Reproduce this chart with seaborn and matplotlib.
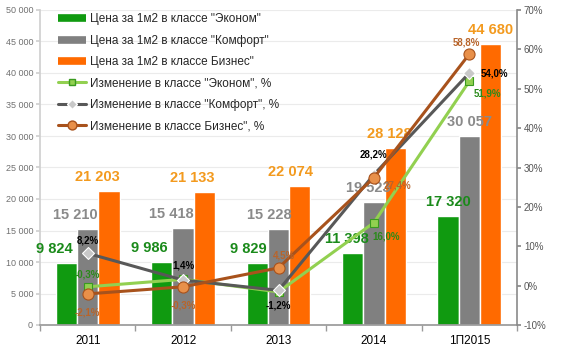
import matplotlib
matplotlib.use("Agg")
import matplotlib.pyplot as plt
import numpy as np
import pandas as pd
import seaborn as sns
from matplotlib.lines import Line2D
from matplotlib.ticker import FuncFormatter, MultipleLocator

sns.set_theme(style="white")
plt.rcParams["font.family"] = ["Liberation Sans", "DejaVu Sans"]

# ---------------- data ----------------
years = ["2011", "2012", "2013", "2014", "1П2015"]
price_econom = [9824, 9986, 9829, 11398, 17320]
price_comfort = [15210, 15418, 15228, 19523, 30057]
price_business = [21203, 21133, 22074, 28128, 44680]
chg_econom = [-0.3, 1.6, -1.6, 16.0, 51.9]
chg_comfort = [8.2, 1.4, -1.2, 28.2, 54.0]
chg_business = [-2.1, -0.3, 4.5, 27.4, 58.8]
bar_names = ['Цена за 1м2 в классе "Эконом"',
             'Цена за 1м2 в классе "Комфорт"',
             'Цена за 1м2 в классе Бизнес"']
line_names = ['Изменение в классе "Эконом", %',
              'Изменение в классе "Комфорт", %',
              'Изменение в классе Бизнес", %']

# ---------------- style ----------------
bar_colors = ["#109a10", "#808080", "#ff6a00"]
bar_label_colors = ["#1a8a1a", "#8a8a8a", "#f39a1e"]
bar_label_dx = [-12, -12, -9, -6, 0]  # px, label shift per year

df = pd.DataFrame({
    "year": years * 3,
    "price": price_econom + price_comfort + price_business,
    "cls": [bar_names[0]] * 5 + [bar_names[1]] * 5 + [bar_names[2]] * 5,
})

fig = plt.figure(figsize=(5.62, 3.52), dpi=100)
ax = fig.add_axes([40 / 562, 1 - 325 / 352, 477 / 562, 315 / 352])

sns.barplot(data=df, x="year", y="price", hue="cls", palette=bar_colors,
            width=0.67, gap=0, saturation=1, ax=ax, legend=False)
ax.set_xlim(-0.5, 4.5)
ax.set_ylim(0, 50000)
ax.set_xlabel("")
ax.set_ylabel("")
ax.yaxis.set_major_locator(MultipleLocator(5000))
ax.yaxis.set_major_formatter(FuncFormatter(lambda v, p: f"{int(v):,}".replace(",", " ")))
ax.yaxis.grid(True, color="#ebebeb", lw=0.8)
ax.set_axisbelow(True)

px = 0.72  # points per pixel
for k, cont in enumerate(ax.containers):
    for i, rect in enumerate(cont):
        h = rect.get_height()
        ax.annotate(f"{int(round(h)):,}".replace(",", " "),
                    (rect.get_x() + rect.get_width() / 2, h),
                    xytext=(bar_label_dx[i] * px, 5), textcoords="offset points",
                    ha="center", va="bottom", fontsize=10.5, fontweight="bold",
                    color=bar_label_colors[k])

# ---------------- lines ----------------
ax2 = ax.twinx()
xpos = np.arange(len(years))
line_specs = [
    (chg_econom, "#92d050", "s", 5.5, "#92d050", "#3a9a20"),
    (chg_comfort, "#585858", "D", 6, "#c8c8c8", "#ffffff"),
    (chg_business, "#a8521c", "o", 8, "#e8904a", "#a8521c"),
]
for vals, col, mk, ms, mfc, mec in line_specs:
    sns.lineplot(x=xpos, y=vals, ax=ax2, color=col, lw=2.2, marker=mk,
                 markersize=ms, markerfacecolor=mfc, markeredgecolor=mec,
                 markeredgewidth=0.8)
ax2.set_ylim(-10, 70)
ax2.yaxis.set_major_locator(MultipleLocator(10))
ax2.yaxis.set_major_formatter(FuncFormatter(lambda v, p: f"{int(round(v))}%"))

# percent labels: (series, index, dx px, dy px)
pct_label_colors = ["#2a8a1a", "#000000", "#b8642a"]
pct_series = [chg_econom, chg_comfort, chg_business]
pct_labels = [
    (0, 0, 0, 12), (0, 3, 12, -14), (0, 4, 18, -12),
    (1, 0, 0, 13), (1, 1, 0, 15), (1, 2, 0, -15), (1, 3, 0, 20), (1, 4, 25, 0),
    (2, 0, 0, -19), (2, 1, 0, -19), (2, 2, 5, 12), (2, 3, 24, -8), (2, 4, -3, 12),
]
for s, i, dx, dy in pct_labels:
    v = pct_series[s][i]
    ax2.annotate(f"{v:.1f}".replace(".", ",") + "%", (xpos[i], v),
                 xytext=(dx * px, dy * px), textcoords="offset points",
                 ha="center", va="center", fontsize=7, fontweight="bold",
                 color=pct_label_colors[s])

# ---------------- axes styling ----------------
for a in (ax, ax2):
    a.spines["top"].set_visible(False)
ax.spines["right"].set_visible(False)
ax2.spines["left"].set_visible(False)
ax2.spines["bottom"].set_visible(False)
ax.spines["left"].set_color("#d0d0d0")
ax.spines["bottom"].set_color("#9a9a9a")
ax2.spines["right"].set_color("#8a8a8a")
ax2.spines["right"].set_linewidth(1.2)

ax.tick_params(axis="y", left=True, length=3, color="#d0d0d0",
               labelsize=6.5, labelcolor="#707070", pad=2)
ax.set_xticks(np.arange(-0.5, 5, 1), minor=True)
ax.tick_params(axis="x", which="major", bottom=False, labelsize=8.5,
               labelcolor="#000000", pad=1.5)
ax.tick_params(axis="x", which="minor", bottom=True, length=4, color="#9a9a9a")
ax2.tick_params(axis="y", right=True, length=3, color="#8a8a8a",
                labelsize=7, labelcolor="#555555", pad=2)

# ---------------- legend ----------------
handles = [Line2D([], [], color=c, lw=5.5, solid_capstyle="butt") for c in bar_colors]
for vals, col, mk, ms, mfc, mec in line_specs:
    handles.append(Line2D([], [], color=col, lw=2.2, marker=mk, markersize=ms * 0.8,
                          markerfacecolor=mfc, markeredgecolor=mec))
leg = ax2.legend(handles, bar_names + line_names, loc="upper left",
                 bbox_to_anchor=(0.028, 1.004), frameon=False, fontsize=8.5,
                 handlelength=2.4, handletextpad=0.3, labelspacing=0.79,
                 borderaxespad=0)

fig.savefig("out.png", dpi=100)
